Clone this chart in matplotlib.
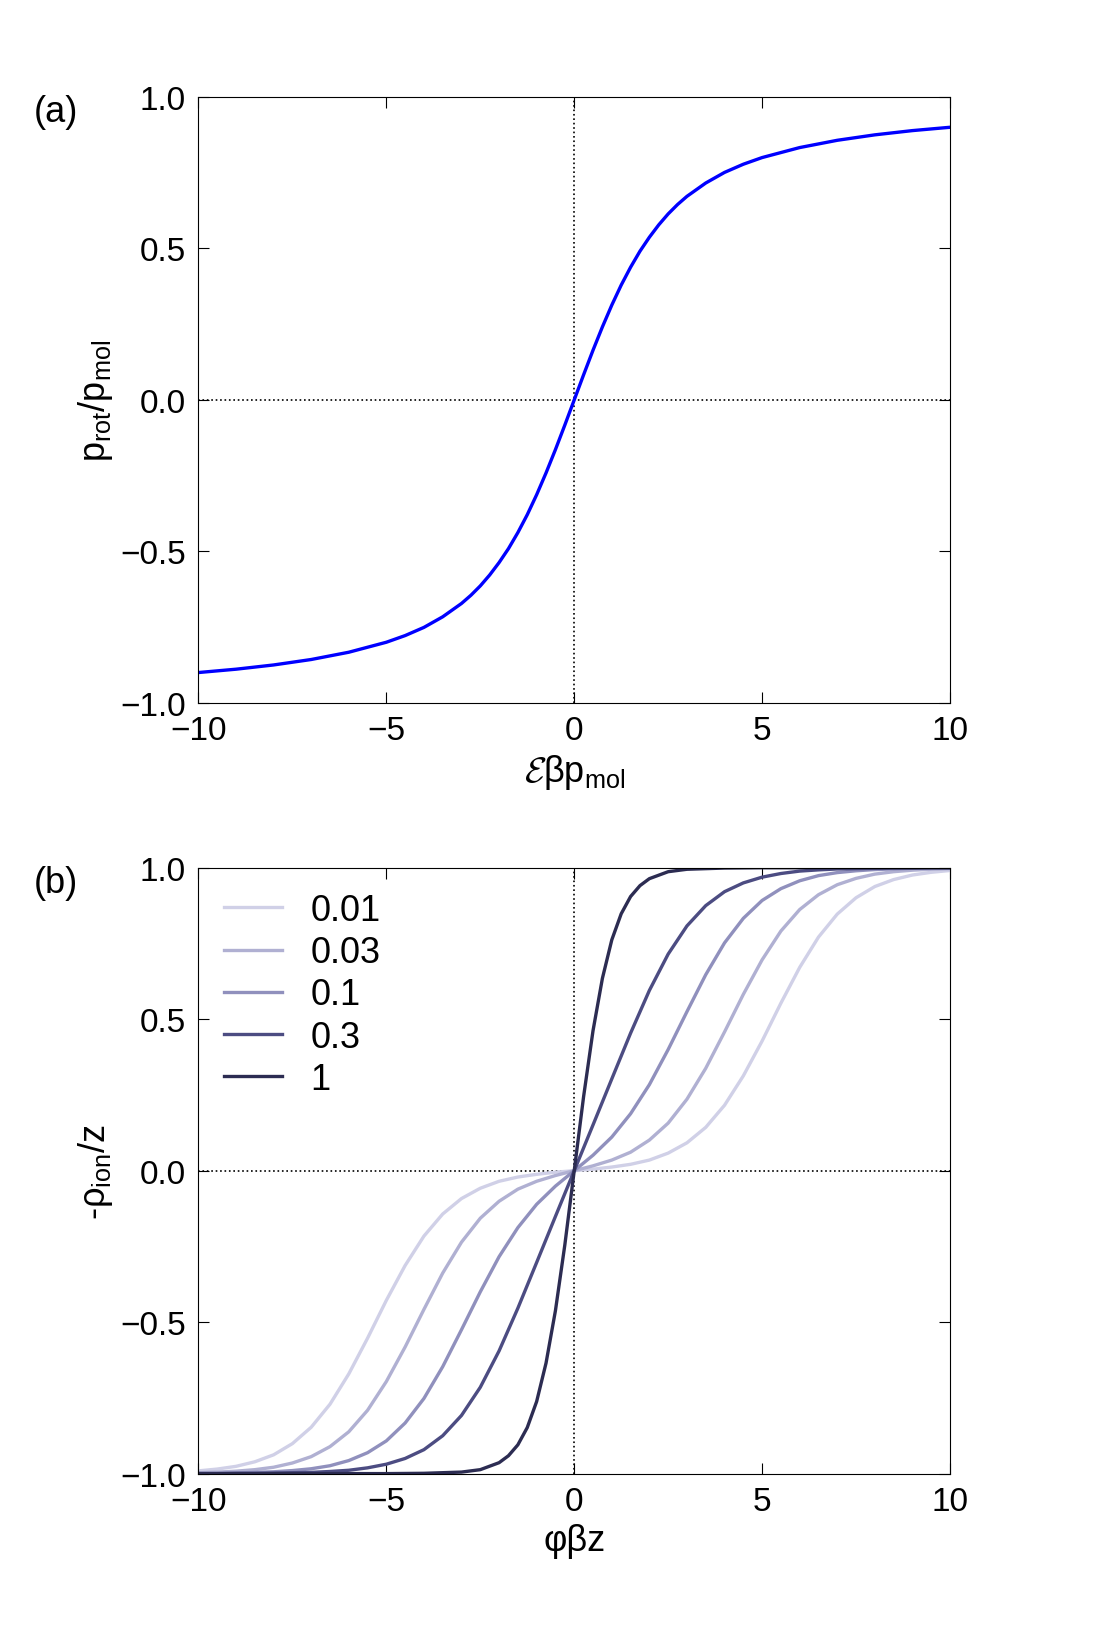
import numpy as np
import matplotlib.pyplot as plt

plt.rcParams['font.family'] = ['Liberation Sans', 'DejaVu Sans']
plt.rcParams['mathtext.fontset'] = 'custom'
plt.rcParams['mathtext.rm'] = 'Liberation Sans'
plt.rcParams['mathtext.cal'] = 'cmsy10'

# panel (a): values read for x >= 0, curve is odd
xa = [0, 0.25, 0.5, 0.75, 1, 1.25, 1.5, 1.75, 2, 2.25, 2.5, 2.75, 3, 3.5,
      4, 4.5, 5, 6, 7, 8, 9, 10]
ya = [0, 0.083, 0.164, 0.241, 0.313, 0.379, 0.438, 0.491, 0.537, 0.578,
      0.614, 0.645, 0.672, 0.716, 0.751, 0.778, 0.800, 0.833, 0.857, 0.875,
      0.889, 0.900]

# panel (b): values read for x >= 0, curves are odd
xb = [0, 0.5, 1, 1.5, 2, 2.5, 3, 3.5, 4, 4.5, 5, 5.5, 6, 6.5, 7, 7.5, 8,
      8.5, 9, 9.5, 10]
y001 = [0, .005, .012, .021, .035, .058, .092, .143, .216, .313, .428, .553,
        .671, .771, .847, .901, .938, .961, .976, .985, .991]
y003 = [0, .016, .035, .061, .101, .157, .236, .338, .458, .582, .696, .791,
        .862, .911, .944, .965, .979, .987, .992, .995, .997]
y01 = [0, .051, .111, .188, .284, .400, .525, .647, .752, .833, .892, .931,
       .957, .974, .984, .990, .994, .996, .998, .999, .999]
y03 = [0, .151, .303, .454, .595, .715, .808, .875, .921, .950, .969, .981,
       .989, .993, .996, .997, .998, .999, .999, 1.0, 1.0]
x1 = [0, .25, .5, .75, 1, 1.25, 1.5, 1.75, 2, 2.5, 3, 4, 5, 10]
y1 = [0, .245, .462, .635, .762, .848, .905, .941, .964, .987, .995, .999,
      1.0, 1.0]

labels = ['0.01', '0.03', '0.1', '0.3', '1']
colors = ['#d0d0e7', '#b0b0d2', '#9090bd', '#4c4c82', '#2c2c52']


def odd(x, y):
    x = np.asarray(x, float)
    y = np.asarray(y, float)
    return np.concatenate([-x[:0:-1], x]), np.concatenate([-y[:0:-1], y])


fig = plt.figure(figsize=(11.15, 16.33), dpi=100)
ax1 = fig.add_axes([0.178, 0.569, 0.674, 0.371])
ax2 = fig.add_axes([0.178, 0.097, 0.674, 0.371])

for ax in (ax1, ax2):
    ax.axhline(0, color='k', ls=':', lw=1.2)
    ax.axvline(0, color='k', ls=':', lw=1.2)
    ax.set_xlim(-10, 10)
    ax.set_ylim(-1, 1)
    ax.set_xticks([-10, -5, 0, 5, 10])
    ax.set_yticks([-1, -0.5, 0, 0.5, 1])
    ax.set_xticklabels(['\u221210', '\u22125', '0', '5', '10'])
    ax.set_yticklabels(['\u22121.0', '\u22120.5', '0.0', '0.5', '1.0'])
    ax.tick_params(direction='in', top=True, right=True, labelsize=24,
                   length=8, pad=9)

x, y = odd(xa, ya)
ax1.plot(x, y, color='#0000ff', lw=2.4)
ax1.set_xlabel(r'$\mathcal{E}\mathrm{\beta p_{mol}}$', fontsize=26)
ax1.set_ylabel(r'$\mathrm{p_{rot}/p_{mol}}$', fontsize=26)
fig.text(0.03, 0.925, '(a)', fontsize=26)

data = [(xb, y001), (xb, y003), (xb, y01), (xb, y03), (x1, y1)]
for (xx, yy), lab, c in zip(data, labels, colors):
    x, y = odd(xx, yy)
    ax2.plot(x, y, color=c, lw=2.4, label=lab)
ax2.legend(loc='upper left', fontsize=26, frameon=False, handlelength=1.6,
           labelspacing=0.2, borderaxespad=0.3)
ax2.set_xlabel('\u03c6\u03b2z', fontsize=26)
ax2.set_ylabel(r'$\mathrm{\text{-}\rho_{ion}/z}$', fontsize=26)
fig.text(0.03, 0.453, '(b)', fontsize=26)

fig.savefig('out.png', dpi=100)
